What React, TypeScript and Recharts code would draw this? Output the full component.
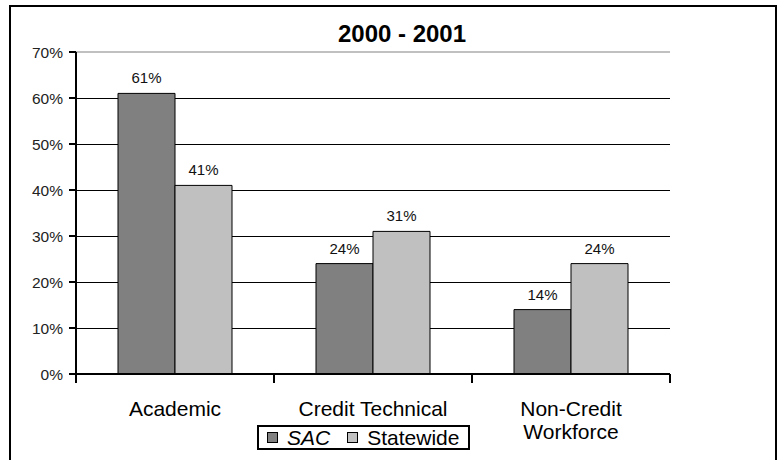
import React from "react";
import {
  BarChart,
  Bar,
  XAxis,
  YAxis,
  CartesianGrid,
  LabelList,
  ReferenceLine,
} from "recharts";

const title = "2000 - 2001";
const categories = ["Academic", "Credit Technical", "Non-Credit Workforce"];
const categoryLines = [["Academic"], ["Credit Technical"], ["Non-Credit", "Workforce"]];
const sacValues = [61, 24, 14];
const statewideValues = [41, 31, 24];
const seriesNames = ["SAC", "Statewide"];
const seriesColors = ["#808080", "#c0c0c0"];
const yTicks = [0, 10, 20, 30, 40, 50, 60, 70];

const data = categories.map((name, i) => ({
  name,
  sac: sacValues[i],
  statewide: statewideValues[i],
}));

const FONT = '"Liberation Sans", Arial, sans-serif';

const CategoryTick = (props: any) => {
  const { x, y, payload, index } = props;
  const half = payload && payload.offset ? payload.offset : 99;
  const lines = categoryLines[index] || [String(payload.value)];
  const isLast = index === categories.length - 1;
  return (
    <g>
      <line x1={x - half} x2={x - half} y1={y} y2={y + 9} stroke="#000" strokeWidth={2} />
      {isLast && (
        <line x1={x + half} x2={x + half} y1={y} y2={y + 9} stroke="#000" strokeWidth={2} />
      )}
      {lines.map((ln: string, i: number) => (
        <text
          key={i}
          x={x}
          y={y + 42 + i * 23}
          textAnchor="middle"
          fontSize={21}
          fontFamily={FONT}
          fill="#000"
        >
          {ln}
        </text>
      ))}
    </g>
  );
};

// plain 1px black grid line, snapped to the pixel grid
const GridLine = (p: any) => (
  <line
    key={p.key}
    x1={p.x1}
    x2={p.x2}
    y1={Math.round(p.y1) + 0.5}
    y2={Math.round(p.y2) + 0.5}
    stroke="#000"
    strokeWidth={1}
  />
);

const App: React.FC = () => {
  return (
    <div style={{ position: "absolute", left: 0, top: 0, width: 784, height: 460, overflow: "hidden", background: "#fff", fontFamily: FONT }}>
      <div
        style={{
          position: "absolute",
          left: 9,
          top: 5,
          width: 764,
          height: 480,
          border: "2px solid #000",
          borderBottom: "none",
        }}
      />
      <div
        style={{
          position: "absolute",
          left: 402,
          top: 20,
          transform: "translateX(-50%)",
          fontSize: 24,
          lineHeight: "28px",
          fontWeight: "bold",
          whiteSpace: "nowrap",
        }}
      >
        {title}
      </div>
      <div style={{ position: "absolute", left: 0, top: 0 }}>
        <BarChart
          width={784}
          height={460}
          data={data}
          margin={{ top: 52, right: 114, bottom: 26, left: 16 }}
          barCategoryGap={42}
          barGap={0}
        >
          <CartesianGrid
            vertical={false}
            horizontal={GridLine as any}
            stroke="#000"
            fill="none"
          />
          <XAxis
            dataKey="name"
            height={60}
            tickLine={false}
            tickSize={0}
            tickMargin={0}
            axisLine={{ stroke: "#000", strokeWidth: 2 }}
            tick={<CategoryTick />}
            interval={0}
          />
          <YAxis
            width={60}
            domain={[0, 70]}
            ticks={yTicks}
            interval={0}
            tickFormatter={(v: number) => `${v}%`}
            tickSize={7}
            tickMargin={6}
            tickLine={{ stroke: "#000", strokeWidth: 2 }}
            axisLine={{ stroke: "#000", strokeWidth: 2 }}
            tick={{ fill: "#222", fontSize: 15.5, fontFamily: FONT }}
          />
          <YAxis
            yAxisId="r"
            orientation="right"
            width={0}
            domain={[0, 70]}
            tick={false}
            tickLine={false}
            axisLine={{ stroke: "#c0c0c0", strokeWidth: 2 }}
          />
          <ReferenceLine y={70} stroke="#c0c0c0" strokeWidth={2} />
          <Bar dataKey="sac" name={seriesNames[0]} fill={seriesColors[0]} stroke="#000" strokeWidth={1} isAnimationActive={false}>
            <LabelList
              dataKey="sac"
              position="top"
              offset={10}
              formatter={(v: any) => `${v}%`}
              style={{ fill: "#111", fontSize: 15, fontFamily: FONT }}
            />
          </Bar>
          <Bar dataKey="statewide" name={seriesNames[1]} fill={seriesColors[1]} stroke="#000" strokeWidth={1} isAnimationActive={false}>
            <LabelList
              dataKey="statewide"
              position="top"
              offset={10}
              formatter={(v: any) => `${v}%`}
              style={{ fill: "#111", fontSize: 15, fontFamily: FONT }}
            />
          </Bar>
        </BarChart>
      </div>
      <div
        style={{
          position: "absolute",
          left: 257,
          top: 425,
          width: 209,
          height: 21,
          border: "2px solid #000",
          display: "flex",
          alignItems: "center",
          fontSize: 21,
          lineHeight: "21px",
          whiteSpace: "nowrap",
        }}
      >
        {seriesNames.map((n, i) => (
          <span key={n} style={{ display: "flex", alignItems: "center", marginLeft: i === 0 ? 8 : 17 }}>
            <span
              style={{
                display: "inline-block",
                width: 9,
                height: 9,
                background: seriesColors[i],
                border: "1px solid #000",
                marginRight: 9,
              }}
            />
            <span style={{ fontStyle: i === 0 ? "italic" : "normal" }}>{n}</span>
          </span>
        ))}
      </div>
    </div>
  );
};

export default App;
